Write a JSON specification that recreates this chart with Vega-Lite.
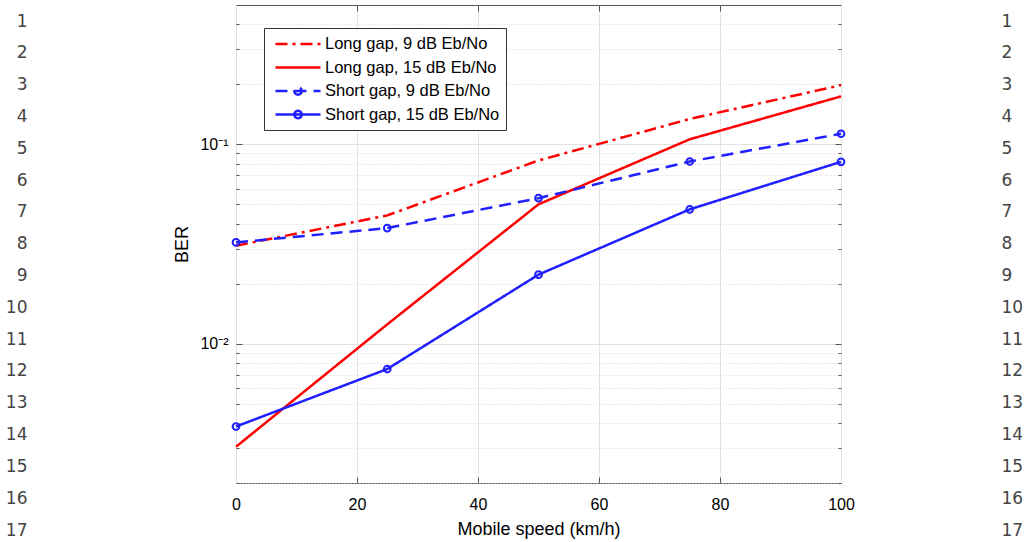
{
  "$schema": "https://vega.github.io/schema/vega-lite/v6.json",
  "width": 605,
  "height": 478,
  "autosize": {"type": "none"},
  "padding": {"left": 236, "top": 5, "right": 185, "bottom": 59},
  "background": "white",
  "config": {
    "view": {"stroke": "#555555", "strokeWidth": 1},
    "axis": {"labelFont": "Liberation Sans", "titleFont": "Liberation Sans", "labelColor": "black", "titleColor": "black", "titleFontWeight": "normal"},
    "legend": {"labelFont": "Liberation Sans"}
  },
  "data": {
    "values": [
      {"series": "Long gap, 9 dB Eb/No", "speed": 0, "ber": 0.031},
      {"series": "Long gap, 9 dB Eb/No", "speed": 25, "ber": 0.044},
      {"series": "Long gap, 9 dB Eb/No", "speed": 50, "ber": 0.083},
      {"series": "Long gap, 9 dB Eb/No", "speed": 75, "ber": 0.134},
      {"series": "Long gap, 9 dB Eb/No", "speed": 100, "ber": 0.198},
      {"series": "Long gap, 15 dB Eb/No", "speed": 0, "ber": 0.00304},
      {"series": "Long gap, 15 dB Eb/No", "speed": 25, "ber": 0.0125},
      {"series": "Long gap, 15 dB Eb/No", "speed": 50, "ber": 0.050},
      {"series": "Long gap, 15 dB Eb/No", "speed": 75, "ber": 0.106},
      {"series": "Long gap, 15 dB Eb/No", "speed": 100, "ber": 0.174},
      {"series": "Short gap, 9 dB Eb/No", "speed": 0, "ber": 0.0322},
      {"series": "Short gap, 9 dB Eb/No", "speed": 25, "ber": 0.038},
      {"series": "Short gap, 9 dB Eb/No", "speed": 50, "ber": 0.0537},
      {"series": "Short gap, 9 dB Eb/No", "speed": 75, "ber": 0.082},
      {"series": "Short gap, 9 dB Eb/No", "speed": 100, "ber": 0.113},
      {"series": "Short gap, 15 dB Eb/No", "speed": 0, "ber": 0.00384},
      {"series": "Short gap, 15 dB Eb/No", "speed": 25, "ber": 0.00746},
      {"series": "Short gap, 15 dB Eb/No", "speed": 50, "ber": 0.0222},
      {"series": "Short gap, 15 dB Eb/No", "speed": 75, "ber": 0.0472},
      {"series": "Short gap, 15 dB Eb/No", "speed": 100, "ber": 0.0817}
    ]
  },
  "layer": [
    {
      "layer": [
        {
          "mark": {"type": "line", "strokeWidth": 2.5},
          "encoding": {
            "x": {
              "field": "speed", "type": "quantitative",
              "scale": {"domain": [0, 100], "nice": false},
              "axis": {"title": "Mobile speed (km/h)", "values": [0, 20, 40, 60, 80, 100], "ticks": false, "domain": false, "grid": true, "gridColor": "#e3e3e3", "labelPadding": 13, "labelFontSize": 16, "titleFontSize": 18, "titlePadding": 8, "labelFlush": false}
            },
            "y": {
              "field": "ber", "type": "quantitative",
              "scale": {"type": "log", "domain": [0.002, 0.5], "nice": false},
              "axis": {
                "title": "BER",
                "values": [0.002, 0.003, 0.004, 0.005, 0.006, 0.007, 0.008, 0.009, 0.01, 0.02, 0.03, 0.04, 0.05, 0.06, 0.07, 0.08, 0.09, 0.1, 0.2, 0.3, 0.4],
                "labelExpr": "datum.value == 0.1 ? '10⁻¹' : (datum.value == 0.01 ? '10⁻²' : '')",
                "ticks": false, "domain": false, "grid": true,
                "gridColor": {"condition": {"test": "datum.value == 0.1 || datum.value == 0.01", "value": "#e3e3e3"}, "value": "#d6d6d6"},
                "gridDash": {"condition": {"test": "datum.value == 0.1 || datum.value == 0.01", "value": []}, "value": [1, 2]},
                "labelPadding": 8, "labelFontSize": 16, "titleFontSize": 18, "titlePadding": 8,
                "labelOverlap": false, "labelFlush": false, "labelBound": false
              }
            },
            "color": {
              "field": "series", "type": "nominal",
              "scale": {"domain": ["Long gap, 9 dB Eb/No", "Long gap, 15 dB Eb/No", "Short gap, 9 dB Eb/No", "Short gap, 15 dB Eb/No"], "range": ["#ff0000", "#ff0000", "#1f1fff", "#1f1fff"]},
              "legend": {
                "orient": "none", "legendX": 28, "legendY": 23, "title": null, "direction": "vertical",
                "labelFontSize": 16.5, "labelColor": "black", "labelLimit": 400, "symbolSize": 289, "symbolStrokeWidth": 2.5,
                "strokeColor": "#333333", "fillColor": "white", "padding": 6, "rowPadding": 4.5, "labelOffset": 17, "symbolOffset": 18,
                "symbolType": "stroke",
                "encode": {"symbols": {"update": {"shape": {"signal": "indexof(datum.value, 'Short') >= 0 ? 'M-2.65,0H2.65M0.435,0A0.435,0.435,0,1,1,-0.435,0A0.435,0.435,0,1,1,0.435,0' : 'M-2.65,0H2.65'"}, "fill": {"value": "white"}}}}
              }
            },
            "strokeDash": {
              "field": "series", "type": "nominal",
              "scale": {"domain": ["Long gap, 9 dB Eb/No", "Long gap, 15 dB Eb/No", "Short gap, 9 dB Eb/No", "Short gap, 15 dB Eb/No"], "range": [[12, 5, 3, 5], [1, 0], [12, 7], [1, 0]]}
            }
          }
        },
        {
          "transform": [{"filter": "indexof(datum.series, 'Short') >= 0"}],
          "mark": {"type": "point", "shape": "circle", "filled": false, "size": 45, "strokeWidth": 2, "color": "#1f1fff", "opacity": 1},
          "encoding": {
            "x": {"field": "speed", "type": "quantitative", "axis": null},
            "y": {"field": "ber", "type": "quantitative", "axis": null}
          }
        },
        {
          "mark": {"type": "point", "opacity": 0},
          "encoding": {
            "x": {"field": "speed", "type": "quantitative", "axis": {"orient": "bottom", "labels": false, "grid": false, "domain": false, "tickSize": -6, "tickColor": "#555555", "values": [20, 40, 60, 80], "title": null}},
            "y": {"field": "ber", "type": "quantitative", "axis": {"orient": "left", "labels": false, "grid": false, "domain": false, "tickColor": "#555555", "title": null,
              "values": [0.002, 0.003, 0.004, 0.005, 0.006, 0.007, 0.008, 0.009, 0.01, 0.02, 0.03, 0.04, 0.05, 0.06, 0.07, 0.08, 0.09, 0.1, 0.2, 0.3, 0.4],
              "tickSize": {"condition": {"test": "datum.value == 0.1 || datum.value == 0.01", "value": -6}, "value": -3}}}
          }
        },
        {
          "mark": {"type": "point", "opacity": 0},
          "encoding": {
            "x": {"field": "speed", "type": "quantitative", "axis": {"orient": "top", "labels": false, "grid": false, "domain": false, "tickSize": -6, "tickColor": "#555555", "values": [20, 40, 60, 80], "title": null}},
            "y": {"field": "ber", "type": "quantitative", "axis": {"orient": "right", "labels": false, "grid": false, "domain": false, "tickColor": "#555555", "title": null,
              "values": [0.002, 0.003, 0.004, 0.005, 0.006, 0.007, 0.008, 0.009, 0.01, 0.02, 0.03, 0.04, 0.05, 0.06, 0.07, 0.08, 0.09, 0.1, 0.2, 0.3, 0.4],
              "tickSize": {"condition": {"test": "datum.value == 0.1 || datum.value == 0.01", "value": -6}, "value": -3}}}
          }
        }
      ],
      "resolve": {"axis": {"x": "independent", "y": "independent"}}
    },
    {
      "data": {"values": [{"n": 1}, {"n": 2}, {"n": 3}, {"n": 4}, {"n": 5}, {"n": 6}, {"n": 7}, {"n": 8}, {"n": 9}, {"n": 10}, {"n": 11}, {"n": 12}, {"n": 13}, {"n": 14}, {"n": 15}, {"n": 16}, {"n": 17}]},
      "mark": {"type": "text", "opacity": 0},
      "encoding": {
        "y": {"field": "n", "type": "quantitative", "scale": {"domain": [1, 17], "range": [16, 525]},
          "axis": {"orient": "left", "values": [1, 2, 3, 4, 5, 6, 7, 8, 9, 10, 11, 12, 13, 14, 15, 16, 17], "format": "d", "offset": 209, "ticks": false, "tickSize": 0, "domain": false, "grid": false, "labelPadding": 0, "title": null, "labelFont": "DejaVu Sans", "labelFontSize": 17, "labelColor": "#444444", "labelBaseline": "middle", "labelOverlap": false, "labelBound": false, "labelFlush": false}},
        "text": {"value": ""}
      }
    },
    {
      "data": {"values": [{"n": 1}, {"n": 2}, {"n": 3}, {"n": 4}, {"n": 5}, {"n": 6}, {"n": 7}, {"n": 8}, {"n": 9}, {"n": 10}, {"n": 11}, {"n": 12}, {"n": 13}, {"n": 14}, {"n": 15}, {"n": 16}, {"n": 17}]},
      "mark": {"type": "text", "opacity": 0},
      "encoding": {
        "y": {"field": "n", "type": "quantitative", "scale": {"domain": [1, 17], "range": [16, 525]},
          "axis": {"orient": "right", "values": [1, 2, 3, 4, 5, 6, 7, 8, 9, 10, 11, 12, 13, 14, 15, 16, 17], "format": "d", "offset": 160, "ticks": false, "tickSize": 0, "domain": false, "grid": false, "labelPadding": 0, "title": null, "labelFont": "DejaVu Sans", "labelFontSize": 17, "labelColor": "#444444", "labelBaseline": "middle", "labelOverlap": false, "labelBound": false, "labelFlush": false}},
        "text": {"value": ""}
      }
    }
  ],
  "resolve": {"scale": {"y": "independent"}, "axis": {"y": "independent"}}
}
